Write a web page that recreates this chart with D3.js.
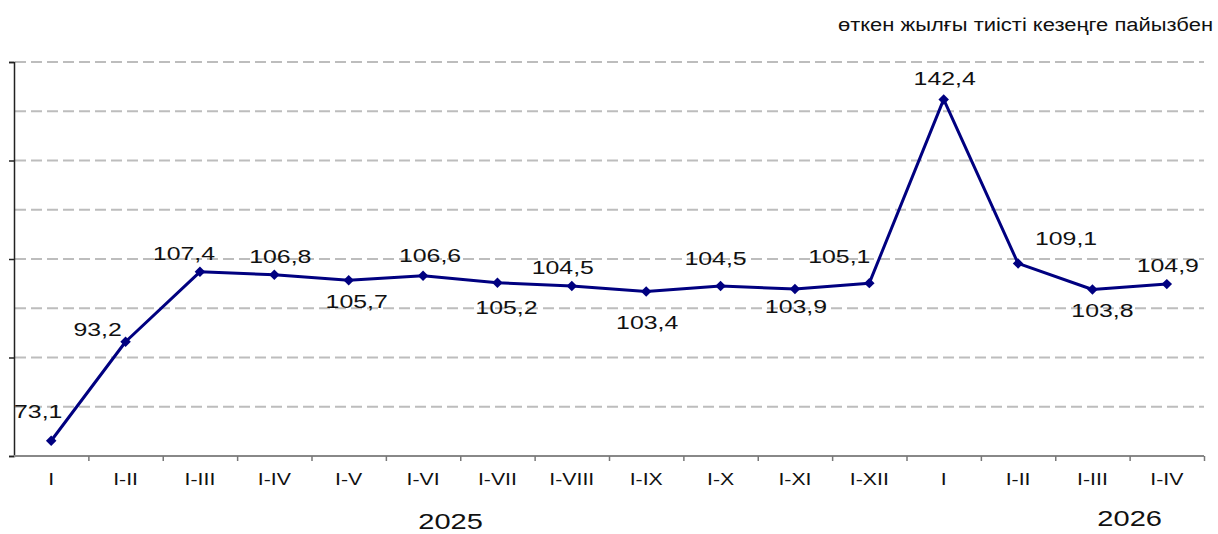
<!DOCTYPE html>
<html>
<head>
<meta charset="utf-8">
<script src="https://cdn.jsdelivr.net/npm/d3@7"></script>
<style>
  body { margin: 0; background: #fff; }
  svg { display: block; }
  text { font-family: "Liberation Sans", Arial, sans-serif; fill: #111; }
</style>
</head>
<body>
<svg id="chart" width="1218" height="534"></svg>
<script>
// data
const categories = ["I","I-II","I-III","I-IV","I-V","I-VI","I-VII","I-VIII","I-IX","I-X","I-XI","I-XII","I","I-II","I-III","I-IV"];
const values = [73.1, 93.2, 107.4, 106.8, 105.7, 106.6, 105.2, 104.5, 103.4, 104.5, 103.9, 105.1, 142.4, 109.1, 103.8, 104.9];
const years = ["2025", "2026"];
const unitText = "өткен жылғы тиісті кезеңге пайызбен";

// where each value label sits relative to its point (layout only)
const labelOffsets = [
  [-13,-23],[-28,-6],[-16,-12],[6,-12],[8,28],[7,-14],[9,31],[-9,-12],
  [1,37],[-5,-21],[1,24],[-30,-20],[1,-14],[48,-18],[10,27],[1,-12]
];
// year labels placed along the index axis (in category units)
const yearAt = [5.87, 15.0];

const plotLeft = 14, plotRight = 1204, plotTop = 62, plotBottom = 456;
const svg = d3.select('#chart');

const x = d3.scaleBand().domain(d3.range(categories.length)).range([plotLeft, plotRight]);
const xi = d3.scaleLinear().domain([0, categories.length]).range([plotLeft, plotRight]);
const y = d3.scaleLinear().domain([70, 150]).range([plotBottom, plotTop]);
const cx = i => x(i) + x.bandwidth() / 2;

// the source picture is stretched sideways, so text gets a horizontal scale
const stretched = (sel, px, py, sx) =>
  sel.attr('transform', (d, i) => `translate(${px(d, i)},${py(d, i)}) scale(${sx},1)`);

// dashed grid every 10
svg.append('g').selectAll('line')
  .data(d3.range(80, 151, 10))
  .join('line')
  .attr('x1', plotLeft + 1).attr('x2', plotRight)
  .attr('y1', d => y(d)).attr('y2', d => y(d))
  .attr('stroke', '#bdbdbd').attr('stroke-width', 2)
  .attr('stroke-dasharray', '11,5');

// y axis, no labels, ticks every 20
const yAxis = d3.axisLeft(y).tickValues(d3.range(70, 151, 20)).tickSize(5).tickFormat('');
svg.append('g').attr('transform', `translate(${plotLeft},0)`).call(yAxis)
  .call(g => g.select('.domain').attr('stroke', '#222').attr('stroke-width', 1.5))
  .call(g => g.selectAll('.tick line').attr('stroke', '#222').attr('stroke-width', 1.5));

// x axis with boundary ticks
svg.append('line').attr('x1', plotLeft).attr('x2', plotRight).attr('y1', plotBottom).attr('y2', plotBottom)
  .attr('stroke', '#888').attr('stroke-width', 2);
const xTicks = d3.axisBottom(xi).tickValues(d3.range(1, categories.length + 1)).tickSize(5).tickFormat('');
svg.append('g').attr('transform', `translate(0,${plotBottom})`).call(xTicks)
  .call(g => g.select('.domain').remove())
  .call(g => g.selectAll('.tick line').attr('stroke', '#777').attr('stroke-width', 1.5));

// category labels
svg.append('g').selectAll('text')
  .data(categories)
  .join('text')
  .attr('text-anchor', 'middle')
  .attr('font-size', '16px')
  .text(d => d)
  .call(stretched, (d, i) => cx(i), () => 485, 1.33);

// years
svg.append('g').selectAll('text')
  .data(years)
  .join('text')
  .attr('text-anchor', 'middle')
  .attr('font-size', '22px')
  .text(d => d)
  .call(stretched, (d, i) => xi(yearAt[i]), (d, i) => i === 0 ? 529 : 526, 1.32);

// line
const line = d3.line()
  .x((d, i) => cx(i))
  .y(d => y(d));
svg.append('path').datum(values)
  .attr('d', line)
  .attr('fill', 'none')
  .attr('stroke', '#000080')
  .attr('stroke-width', 3)
  .attr('stroke-linejoin', 'round');

// diamond markers
svg.append('g').selectAll('path')
  .data(values)
  .join('path')
  .attr('d', d3.symbol(d3.symbolDiamond2, 70))
  .attr('transform', (d, i) => `translate(${cx(i)},${y(d)})`)
  .attr('fill', '#000080');

// value labels
svg.append('g').selectAll('text')
  .data(values)
  .join('text')
  .attr('text-anchor', 'middle')
  .attr('font-size', '18px')
  .text(d => d3.format('.1f')(d).replace('.', ','))
  .call(stretched, (d, i) => cx(i) + labelOffsets[i][0], (d, i) => y(d) + labelOffsets[i][1], 1.38);

// unit note
svg.append('text')
  .attr('x', 838).attr('y', 31)
  .attr('font-family', 'Roboto, "Noto Sans", sans-serif')
  .attr('font-size', '18px')
  .attr('textLength', 375)
  .attr('lengthAdjust', 'spacingAndGlyphs')
  .text(unitText);
</script>
</body>
</html>
